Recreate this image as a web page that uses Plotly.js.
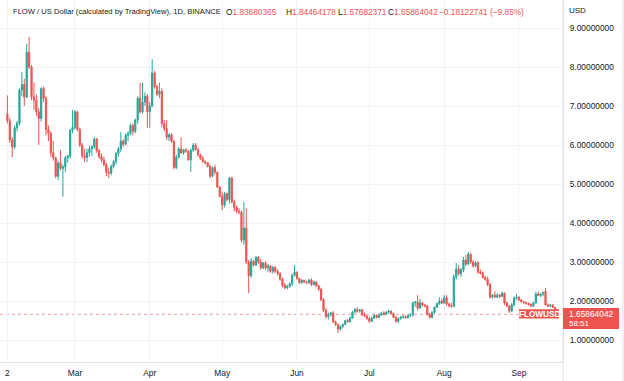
<!DOCTYPE html>
<html>
<head>
<meta charset="utf-8">
<script src="https://cdn.plot.ly/plotly-3.0.1.min.js"></script>
<style>html,body{margin:0;padding:0;background:#fff;}#chart{width:624px;height:381px;}</style>
</head>
<body>
<div id="chart"></div>
<script>
// Daily FLOW/USD candles, Feb 1 2022 -> Sep 16 2022
const startDate = '2022-02-01';
const openV = [
6.80,6.62,6.13,5.95,6.44,6.56,7.41,7.55,7.23,8.38,8.00,7.23,7.15,6.85,6.68,7.45,7.20,6.40,6.30,5.80,5.67,5.20,5.54,5.40,5.44,5.67,5.72,6.38,
6.45,6.85,6.40,6.00,5.72,5.68,5.80,5.90,5.95,6.15,5.85,5.70,5.62,5.50,5.30,5.28,5.45,5.58,5.78,5.90,6.10,6.02,6.25,6.30,6.50,6.35,6.64,7.20,6.85,7.10,7.25,
6.85,7.00,7.85,7.50,7.30,7.38,6.55,6.42,6.20,6.26,6.10,5.42,5.69,5.90,5.80,5.88,5.84,5.62,5.87,6.00,5.88,5.75,5.65,5.58,5.54,5.45,5.20,5.42,5.30,4.92,
4.68,4.46,4.75,4.60,5.15,4.54,4.40,4.30,4.28,3.56,3.87,3.00,2.65,3.02,2.92,3.12,3.00,2.85,2.97,2.85,2.90,2.76,2.86,2.76,2.70,2.56,2.40,2.34,2.38,2.44,2.66,
2.74,2.58,2.47,2.53,2.49,2.47,2.54,2.42,2.49,2.39,2.30,2.03,1.76,1.60,1.66,1.69,1.46,1.40,1.28,1.35,1.40,1.50,1.47,1.56,1.72,1.78,1.74,1.77,1.65,1.61,
1.55,1.48,1.56,1.63,1.58,1.64,1.69,1.66,1.71,1.74,1.68,1.58,1.48,1.55,1.58,1.60,1.57,1.63,1.64,1.95,1.97,1.82,1.95,1.90,1.87,1.66,1.58,1.70,1.84,1.93,2.00,
1.95,2.08,1.92,1.88,1.86,2.62,2.82,2.70,2.80,3.05,2.95,3.20,3.00,2.90,2.98,2.74,2.72,2.60,2.56,2.42,2.10,2.15,2.10,2.15,2.12,2.20,1.95,1.87,1.74,1.90,2.08,
2.10,2.03,1.98,1.96,1.94,1.91,1.87,1.95,2.18,2.14,2.18,2.25,1.90,1.87,1.90,1.83680365
];
const highV = [
7.27,6.70,6.20,6.50,6.62,7.45,7.87,7.70,8.60,8.77,8.05,7.60,7.30,6.95,7.48,7.50,7.25,6.50,6.35,6.10,5.70,5.60,5.87,5.50,5.72,5.75,6.42,6.90,
6.90,6.88,6.45,6.05,5.90,5.90,5.98,6.00,6.20,6.18,5.90,5.78,5.70,5.55,5.42,5.50,5.62,5.82,5.95,6.33,6.15,6.30,6.35,6.55,6.55,6.68,7.25,7.60,7.60,7.35,7.30,
7.10,8.20,7.90,7.55,7.60,7.45,6.64,6.64,6.30,6.30,6.12,5.75,5.95,6.20,5.90,5.92,5.86,5.90,6.05,6.05,5.92,5.78,5.72,5.60,5.56,5.50,5.45,5.50,5.32,4.95,
4.80,4.80,4.78,5.18,5.18,4.60,4.45,4.38,4.32,4.54,4.38,3.05,3.10,3.05,3.15,3.15,3.08,3.00,3.02,2.95,2.92,2.90,2.90,2.82,2.74,2.60,2.46,2.42,2.48,2.70,2.92,
2.76,2.60,2.56,2.55,2.52,2.56,2.58,2.52,2.50,2.42,2.34,2.08,1.82,1.70,1.72,1.74,1.50,1.42,1.38,1.42,1.52,1.54,1.60,1.75,1.82,1.84,1.80,1.80,1.70,1.64,
1.60,1.60,1.66,1.66,1.68,1.72,1.74,1.74,1.78,1.76,1.70,1.62,1.58,1.62,1.64,1.63,1.66,1.68,1.98,2.00,2.15,2.05,1.98,1.93,1.90,1.70,1.74,1.86,1.96,2.10,2.06,
2.15,2.15,1.96,1.95,2.68,2.97,2.92,2.85,3.13,3.18,3.26,3.22,3.05,3.02,3.02,2.80,2.76,2.65,2.62,2.46,2.18,2.25,2.20,2.18,2.24,2.22,1.98,1.90,1.95,2.12,2.18,
2.12,2.05,2.00,1.98,1.96,1.94,1.98,2.24,2.24,2.20,2.24,2.33,1.94,1.92,1.92,1.84464178
];
const lowV = [
6.55,6.05,5.69,5.90,6.35,6.50,7.25,7.00,7.20,7.95,7.15,6.90,6.75,6.00,6.60,7.10,6.25,6.10,5.70,5.60,5.15,5.10,5.35,4.67,5.30,5.55,5.65,6.30,
6.40,6.35,5.95,5.65,5.56,5.56,5.70,5.72,5.90,5.80,5.65,5.55,5.45,5.20,5.15,5.22,5.40,5.50,5.70,5.82,5.95,6.00,6.10,6.25,6.25,6.30,6.55,6.80,6.80,7.00,6.44,
6.44,6.97,7.45,7.25,7.20,6.45,6.35,6.13,6.10,6.05,5.38,5.38,5.65,5.78,5.75,5.80,5.60,5.31,5.82,5.85,5.70,5.62,5.55,5.50,5.42,5.15,5.18,5.25,4.90,4.65,
4.33,4.40,4.55,4.50,4.50,4.30,4.25,4.22,3.50,3.45,2.95,2.20,2.60,2.88,2.90,2.95,2.80,2.82,2.80,2.75,2.72,2.70,2.72,2.65,2.52,2.35,2.30,2.30,2.34,2.38,2.62,
2.55,2.44,2.45,2.46,2.43,2.44,2.38,2.40,2.36,2.26,2.00,1.72,1.55,1.52,1.60,1.44,1.36,1.18,1.24,1.30,1.38,1.44,1.45,1.55,1.68,1.70,1.70,1.62,1.58,1.52,
1.44,1.46,1.54,1.55,1.56,1.62,1.63,1.64,1.67,1.66,1.56,1.44,1.43,1.52,1.55,1.54,1.55,1.59,1.60,1.85,1.76,1.80,1.86,1.84,1.62,1.55,1.56,1.68,1.82,1.90,1.92,
1.93,1.88,1.84,1.83,1.84,2.55,2.65,2.62,2.74,2.90,2.92,2.95,2.85,2.86,2.70,2.68,2.58,2.52,2.38,2.06,2.06,2.08,2.07,2.08,2.10,1.90,1.84,1.69,1.72,1.86,2.02,
2.00,1.96,1.93,1.90,1.88,1.84,1.85,1.93,2.12,2.10,2.12,1.88,1.84,1.84,1.83,1.57682371
];
const closeV = [
6.62,6.13,5.95,6.44,6.56,7.41,7.55,7.23,8.38,8.00,7.23,7.15,6.85,6.68,7.45,7.20,6.40,6.30,5.80,5.67,5.20,5.54,5.40,5.44,5.67,5.72,6.38,6.45,
6.85,6.40,6.00,5.72,5.68,5.80,5.90,5.95,6.15,5.85,5.70,5.62,5.50,5.30,5.28,5.45,5.58,5.78,5.90,6.10,6.02,6.25,6.30,6.50,6.35,6.64,7.20,6.85,7.10,7.25,6.85,
7.00,7.85,7.50,7.30,7.38,6.55,6.42,6.20,6.26,6.10,5.42,5.69,5.90,5.80,5.88,5.84,5.62,5.87,6.00,5.88,5.75,5.65,5.58,5.54,5.45,5.20,5.42,5.30,4.92,4.68,
4.46,4.75,4.60,5.15,4.54,4.40,4.30,4.28,3.56,3.87,3.00,2.65,3.02,2.92,3.12,3.00,2.85,2.97,2.85,2.90,2.76,2.86,2.76,2.70,2.56,2.40,2.34,2.38,2.44,2.66,2.74,
2.58,2.47,2.53,2.49,2.47,2.54,2.42,2.49,2.39,2.30,2.03,1.76,1.60,1.66,1.69,1.46,1.40,1.28,1.35,1.40,1.50,1.47,1.56,1.72,1.78,1.74,1.77,1.65,1.61,1.55,
1.48,1.56,1.63,1.58,1.64,1.69,1.66,1.71,1.74,1.68,1.58,1.48,1.55,1.58,1.60,1.57,1.63,1.64,1.95,1.97,1.82,1.95,1.90,1.87,1.66,1.58,1.70,1.84,1.93,2.00,1.95,
2.08,1.92,1.88,1.86,2.62,2.82,2.70,2.80,3.05,2.95,3.20,3.00,2.90,2.98,2.74,2.72,2.60,2.56,2.42,2.10,2.15,2.10,2.15,2.12,2.20,1.95,1.87,1.74,1.90,2.08,2.10,
2.03,1.98,1.96,1.94,1.91,1.87,1.95,2.18,2.14,2.18,2.22,1.90,1.87,1.90,1.83680365,1.65864042
];
const monthTicks = ['2022-02-01','2022-03-01','2022-04-01','2022-05-01','2022-06-01','2022-07-01','2022-08-01','2022-09-01'];
const monthLabels = ['2','Mar','Apr','May','Jun','Jul','Aug','Sep'];
const priceTicks = [1,2,3,4,5,6,7,8,9];
const priceLabels = ['1.00000000','2.00000000','3.00000000','4.00000000','5.00000000','6.00000000','7.00000000','8.00000000','9.00000000'];
const lastPrice = 1.65864042;

const dates = [];
const d0 = new Date(startDate + 'T00:00:00Z');
for (let i = 0; i < closeV.length; i++) {
  const d = new Date(d0.getTime() + i * 86400000);
  dates.push(d.toISOString().slice(0, 10));
}

const UP = '#26a69a', DOWN = '#ef5350', TXT = '#131722', GRID = '#f0f3fa', BORDER = '#e0e3eb';
const FONT = 'Liberation Sans, Arial, sans-serif';
const W = 563, H = 362;
const px = x => x / W;
const py = y => 1 - y / H;

const trace = {
  type: 'candlestick', x: dates, open: openV, high: highV, low: lowV, close: closeV,
  increasing: {line: {color: UP, width: 1}, fillcolor: UP},
  decreasing: {line: {color: DOWN, width: 1}, fillcolor: DOWN},
  whiskerwidth: 0, hoverinfo: 'skip'
};

function ann(text, x, y, opts) {
  return Object.assign({text: text, xref: 'paper', yref: 'paper', x: px(x), y: py(y),
    xanchor: 'left', yanchor: 'middle', showarrow: false, borderpad: 0,
    font: {family: FONT, size: 8.3, color: TXT}}, opts || {});
}
const R = s => '<span style="color:' + DOWN + '">' + s + '</span>';

const layout = {
  width: 624, height: 381,
  margin: {l: 0, r: 61, t: 0, b: 19, pad: 0},
  paper_bgcolor: '#ffffff', plot_bgcolor: '#ffffff',
  showlegend: false,
  xaxis: {
    type: 'date', range: ['2022-01-28 22:24', '2022-09-19 06:00'],
    tickmode: 'array', tickvals: monthTicks, ticktext: monthLabels,
    showgrid: true, gridcolor: GRID, gridwidth: 1, zeroline: false,
    showline: true, linecolor: BORDER, linewidth: 1,
    ticks: 'outside', ticklen: 3, tickcolor: 'rgba(0,0,0,0)',
    tickfont: {family: FONT, size: 8.4, color: TXT},
    rangeslider: {visible: false}, fixedrange: true
  },
  yaxis: {
    side: 'right', range: [0.4359, 9.7179],
    tickmode: 'array', tickvals: priceTicks, ticktext: priceLabels,
    showgrid: true, gridcolor: GRID, gridwidth: 1, zeroline: false,
    showline: true, linecolor: BORDER, linewidth: 1,
    ticks: 'outside', ticklen: 4, tickcolor: 'rgba(0,0,0,0)',
    tickfont: {family: FONT, size: 8.4, color: TXT}, fixedrange: true
  },
  shapes: [
    {type: 'line', xref: 'paper', yref: 'y', x0: 0, x1: 1, y0: lastPrice, y1: lastPrice,
     line: {color: 'rgba(239,83,80,0.55)', width: 1, dash: 'dot'}, layer: 'below'},
    {type: 'line', xref: 'paper', yref: 'paper', x0: 1, x1: 1, y0: py(381), y1: 1,
     line: {color: BORDER, width: 1}},
    {type: 'line', xref: 'paper', yref: 'paper', x0: px(623), x1: px(623), y0: py(381), y1: 1,
     line: {color: BORDER, width: 1}},
    {type: 'rect', xref: 'paper', yref: 'paper', x0: 1, x1: px(619), y0: py(329), y1: py(308),
     fillcolor: DOWN, line: {width: 0}},
    {type: 'rect', xref: 'paper', yref: 'paper', x0: px(519), x1: px(559), y0: py(318.5), y1: py(309.3),
     fillcolor: DOWN, line: {width: 0}}
  ],
  annotations: [
    ann('FLOW / US Dollar (calculated by TradingView), 1D, BINANCE', 12, 11.5, {font: {family: FONT, size: 7.6, color: TXT}}),
    ann('O' + R('1.83680365'), 225, 11.5),
    ann('H' + R('1.84464178'), 285, 11.5),
    ann('L' + R('1.57682371'), 337, 11.5),
    ann('C' + R('1.65864042'), 387, 11.5),
    ann(R('\u22120.18122741 (\u22129.85%)'), 438, 11.5),
    ann('USD', 568, 11, {font: {family: FONT, size: 8, color: TXT}}),
    ann('1.65864042', 568, 314, {font: {family: FONT, size: 8.4, color: '#ffffff'}}),
    ann('58:51', 568, 323.5, {font: {family: FONT, size: 8, color: '#ffffff'}}),
    ann('<b>FLOWUSD</b>', 539, 314, {xanchor: 'center', font: {family: FONT, size: 8.2, color: '#ffffff'}})
  ]
};

Plotly.newPlot('chart', [trace], layout, {staticPlot: true, displayModeBar: false});
</script>
</body>
</html>
